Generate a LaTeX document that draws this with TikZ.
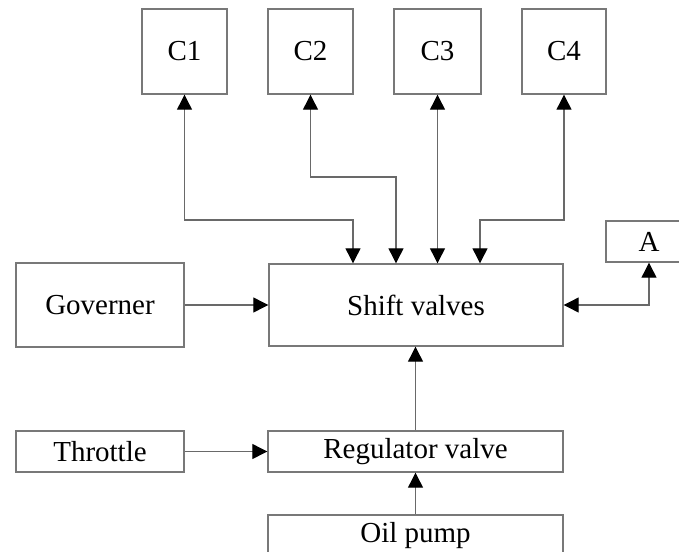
\documentclass[tikz,border=0pt]{standalone}
\usepackage{fontspec}
\setmainfont{Liberation Serif}
\usetikzlibrary{arrows.meta}
\definecolor{boxgray}{RGB}{120,120,120}
\definecolor{linegray}{RGB}{105,105,105}
\tikzset{
  blk/.style={draw=boxgray, line width=1.4pt, rectangle, inner sep=0pt, font=\fontsize{29}{34}\selectfont, text=black},
  tip/.style={},
  conn/.style={draw=linegray, line width=1.2pt, -{Triangle[length=15pt,width=15pt,color=black]}},
  bconn/.style={draw=linegray, line width=1.2pt, {Triangle[length=15pt,width=15pt,color=black]}-{Triangle[length=15pt,width=15pt,color=black]}}
}
\begin{document}
\begin{tikzpicture}[x=1pt,y=-1pt]
\useasboundingbox (0,0) rectangle (679,551);
\fill[white] (0,0) rectangle (679,551);
% top boxes
\node[blk, minimum width=85pt, minimum height=85pt] (C1) at (184.5,51.5) {C1};
\node[blk, minimum width=85pt, minimum height=85pt] (C2) at (310.5,51.5) {C2};
\node[blk, minimum width=87pt, minimum height=85pt] (C3) at (437.5,51.5) {C3};
\node[blk, minimum width=84pt, minimum height=85pt] (C4) at (564,51.5) {C4};
% middle
\node[blk, minimum width=294pt, minimum height=82pt] (sv) at (416,305) {Shift valves};
\node[blk, minimum width=168pt, minimum height=84pt] (gov) at (100,305) {Governer};
\node[blk, minimum width=86pt, minimum height=41pt] (A) at (649,241.5) {A};
% lower
\node[blk, minimum width=168pt, minimum height=41pt] (thr) at (100,451.5) {Throttle};
\node[blk, minimum width=295pt, minimum height=41pt] (reg) at (415.5,451.5) {Regulator valve};
\node[blk, minimum width=295pt, minimum height=41pt] (oil) at (415.5,535.5) {Oil pump};
% turn points
\coordinate (k1) at (353,220);
\coordinate (k2) at (396,177);
\coordinate (k4) at (480,220);
% connectors
\draw[bconn] (C1.south) |- (k1) -- (k1 |- sv.north);
\draw[bconn] (C2.south) |- (k2) -- (k2 |- sv.north);
\draw[bconn] (C3.south) -- (C3.south |- sv.north);
\draw[bconn] (C4.south) |- (k4) -- (k4 |- sv.north);
\draw[conn] (gov.east) -- (sv.west);
\draw[bconn] (sv.east) -| (A.south);
\draw[conn] (reg.north) -- (reg.north |- sv.south);
\draw[conn] (thr.east) -- (reg.west);
\draw[conn] (oil.north) -- (reg.south);
\end{tikzpicture}
\end{document}
